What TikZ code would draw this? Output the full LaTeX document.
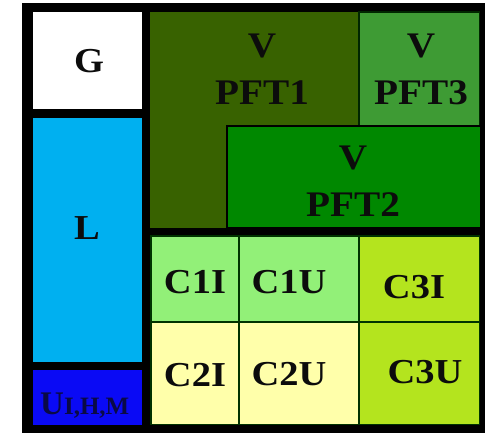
\documentclass[tikz,border=0pt]{standalone}
\usepackage{fontspec}
\setmainfont{Liberation Serif}
\definecolor{pftone}{RGB}{56,98,0}
\definecolor{pftthree}{RGB}{62,155,52}
\definecolor{pfttwo}{RGB}{0,136,0}
\definecolor{cone}{RGB}{146,240,120}
\definecolor{ctwo}{RGB}{255,255,170}
\definecolor{cthree}{RGB}{180,228,30}
\definecolor{lcol}{RGB}{0,176,240}
\definecolor{ucol}{RGB}{10,10,245}
\definecolor{txt}{RGB}{12,12,12}
\definecolor{utxt}{RGB}{10,10,70}
\begin{document}
\begin{tikzpicture}[x=1pt,y=-1pt,
  cell/.style={inner sep=0pt,outer sep=0pt,anchor=north west},
  ccell/.style={cell,draw=black!80!green,line width=1.3pt},
  lab/.style={font=\bfseries\fontsize{36}{47}\selectfont,text=txt,align=center,inner sep=0pt,xscale=1.09},
  slab/.style={font=\bfseries\fontsize{35}{40}\selectfont,text=txt,inner sep=0pt,xscale=1.1}]
\useasboundingbox (0,0) rectangle (485,435);
\fill[white] (0,0) rectangle (485,435);
% outer black frame
\node[cell,fill=black,minimum width=463pt,minimum height=430pt] (frame) at (22,3) {};
% left column
\node[cell,fill=white,minimum width=109pt,minimum height=97pt] (g) at (33,12) {};
\node[cell,fill=lcol,minimum width=109pt,minimum height=244pt] (l) at (33,118) {};
\node[cell,fill=ucol,minimum width=109pt,minimum height=55pt] (u) at (33,370) {};
% vegetation
\node[cell,fill=pftone,minimum width=209pt,minimum height=216pt] (p1) at (150,12) {};
\node[cell,fill=pftthree,draw=black!85!green,line width=1.2pt,minimum width=121pt,minimum height=114pt] (p3) at (359,12) {};
\node[cell,fill=pfttwo,draw=black,line width=2.5pt,minimum width=254pt,minimum height=102pt] (p2) at (227,126) {};
% crops
\node[ccell,fill=cone,minimum width=88pt,minimum height=86pt] (c1i) at (151,236) {};
\node[ccell,fill=cone,minimum width=120pt,minimum height=86pt] (c1u) at (239,236) {};
\node[ccell,fill=cthree,minimum width=121pt,minimum height=86pt] (c3i) at (359,236) {};
\node[ccell,fill=ctwo,minimum width=88pt,minimum height=103pt] (c2i) at (151,322) {};
\node[ccell,fill=ctwo,minimum width=120pt,minimum height=103pt] (c2u) at (239,322) {};
\node[ccell,fill=cthree,minimum width=121pt,minimum height=103pt] (c3u) at (359,322) {};
% right and bottom black strips of the frame
\fill[black] (480,3) rectangle (485,433);
\fill[black] (22,425) rectangle (485,433);
% labels
\node[slab] (tg) at (89,61) {G};
\node[slab] (tl) at (87,228) {L};
\node[font=\bfseries,text=utxt,inner sep=0pt,anchor=base west] (tu) at (40,415) {{\fontsize{33}{35}\selectfont U}{\fontsize{25}{27}\selectfont I,H,M}};
\node[lab] (tp1) at (262,69) {V\\PFT1};
\node[lab] (tp3) at (421,69) {V\\PFT3};
\node[lab] (tp2) at (353,181) {V\\PFT2};
\node[slab] (t1i) at (195,282) {C1I};
\node[slab] (t1u) at (289,282) {C1U};
\node[slab] (t3i) at (414,287) {C3I};
\node[slab] (t2i) at (195,375) {C2I};
\node[slab] (t2u) at (289,374) {C2U};
\node[slab] (t3u) at (425,372) {C3U};
\end{tikzpicture}
\end{document}
